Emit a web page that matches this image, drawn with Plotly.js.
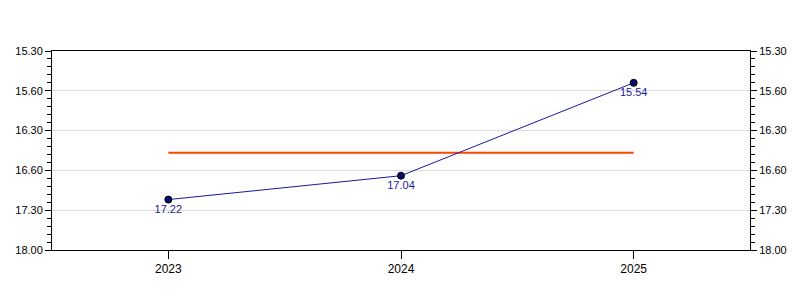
<!DOCTYPE html>
<html><head><meta charset="utf-8">
<script src="https://cdn.plot.ly/plotly-3.0.1.min.js"></script>
<style>body{margin:0;background:#fff}#chart{width:800px;height:300px}</style>
</head><body><div id="chart"></div>
<script>
const years = ['2023', '2024', '2025'];
const times = ['17.22', '17.04', '15.54'];          // minutes.seconds
const tickLabels = ['15.30', '15.60', '16.30', '16.60', '17.30', '18.00'];
const tickSeconds = [930, 960, 990, 1020, 1050, 1080];

function toSec(s){ const [m, sec] = s.split('.').map(Number); return m*60 + sec; }
const secs = times.map(toSec);
const avg = secs.reduce((a,b)=>a+b,0)/secs.length;

const yCommon = {
  range: [1080, 930], tickmode: 'array', tickvals: tickSeconds, ticktext: tickLabels,
  ticks: 'outside', ticklen: 6, tickcolor: '#000', showline: true, linecolor: '#000', linewidth: 1,
  showgrid: true, gridcolor: '#dcdcdc', zeroline: false,
  tickfont: {family: 'Liberation Sans, Arial', size: 11, color: '#000'},
  minor: {ticks: 'outside', ticklen: 4, tickcolor: '#000', tick0: 930, dtick: 6, showgrid: false}
};

const data = [
  {x: years, y: years.map(()=>avg), mode: 'lines', line: {color: '#ff4500', width: 2},
   hoverinfo: 'skip', showlegend: false},
  {x: years, y: secs, mode: 'lines+markers+text', text: times, textposition: 'bottom center',
   textfont: {family: 'Liberation Sans, Arial', size: 11, color: '#1a1a9a'},
   line: {color: '#1a1a9a', width: 1},
   marker: {size: 7, color: '#0a0a70', line: {color: '#000', width: 1}}, showlegend: false},
  {x: years, y: secs, yaxis: 'y2', mode: 'none', showlegend: false, hoverinfo: 'skip'}
];

const layout = {
  width: 800, height: 300, margin: {l: 52, r: 50, t: 51, b: 50},
  paper_bgcolor: '#fff', plot_bgcolor: '#fff', showlegend: false,
  xaxis: {type: 'category', range: [-0.5, 2.5], ticks: 'outside', ticklen: 8, tickcolor: '#000',
    showline: true, linecolor: '#000', mirror: true, showgrid: false, zeroline: false,
    tickfont: {family: 'Liberation Sans, Arial', size: 12, color: '#000'}},
  yaxis: Object.assign({}, yCommon, {side: 'left'}),
  yaxis2: Object.assign({}, yCommon, {side: 'right', overlaying: 'y', showgrid: false})
};
Plotly.newPlot('chart', data, layout, {staticPlot: true, displayModeBar: false});
</script></body></html>
